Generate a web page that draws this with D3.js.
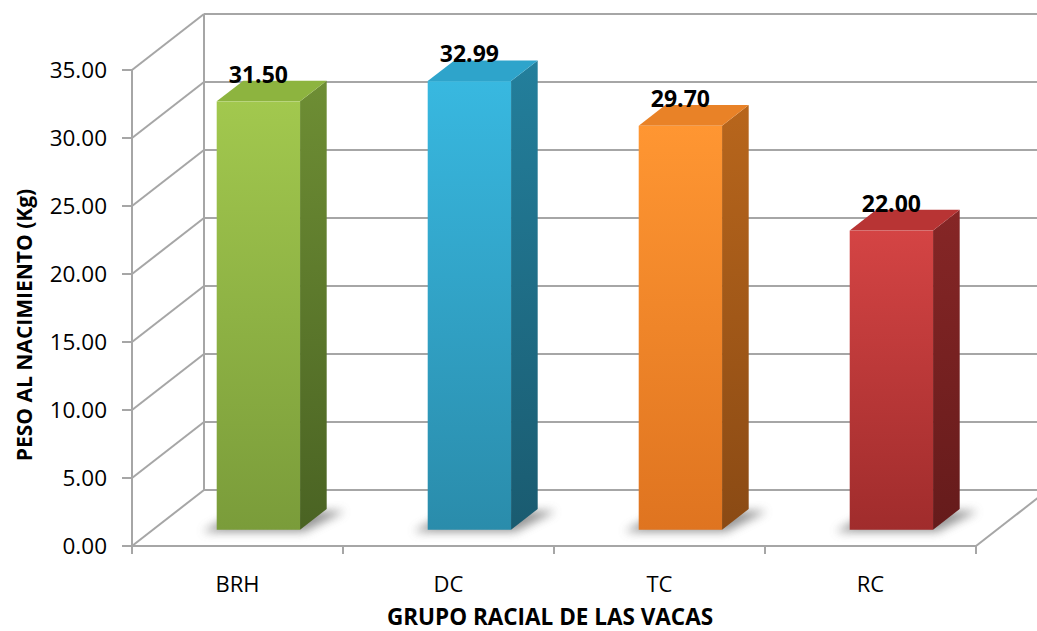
<!DOCTYPE html>
<html><head><meta charset="utf-8">
<script src="https://cdn.jsdelivr.net/npm/d3@7"></script>
<style>html,body{margin:0;padding:0;background:#fff;}svg{display:block;}</style>
</head><body>
<svg id="c" width="1037" height="631"></svg>
<script>
const categories = ["BRH", "DC", "TC", "RC"];
const values = [31.50, 32.99, 29.70, 22.00];
const yTicks = [0, 5, 10, 15, 20, 25, 30, 35];
const frontColors = [["#a2c84e", "#7a9c3a"], ["#38b8e0", "#2a8cab"], ["#ff9632", "#df7420"], ["#d44444", "#a02c2c"]];
const sideColors = [["#6e8e34", "#4a6323"], ["#237f9c", "#1a5b70"], ["#b8661c", "#8a4a14"], ["#862626", "#651b1b"]];
const topColors = ["#8db43f", "#2ea4cb", "#e98227", "#b83434"];

const svg = d3.select("#c");
const font = "'Open Sans', 'Noto Sans', sans-serif";
const x0 = 132, x1 = 976;
const y = d3.scaleLinear().domain([0, 35]).range([546, 70]);
const x = d3.scaleBand().domain(categories).range([x0, x1]);
const DX = 72, DY = -56;
const f1 = 0.29, f2 = 0.66;
const grid = "#a6a6a6";

const defs = svg.append("defs");
const blur = defs.append("filter").attr("id", "blur").attr("x", "-50%").attr("y", "-50%").attr("width", "200%").attr("height", "200%");
blur.append("feGaussianBlur").attr("stdDeviation", 5);
categories.forEach((c, i) => {
  const g1 = defs.append("linearGradient").attr("id", "fg" + i).attr("x1", 0).attr("y1", 0).attr("x2", 0).attr("y2", 1);
  g1.append("stop").attr("offset", 0).attr("stop-color", frontColors[i][0]);
  g1.append("stop").attr("offset", 1).attr("stop-color", frontColors[i][1]);
  const g2 = defs.append("linearGradient").attr("id", "sg" + i).attr("x1", 0).attr("y1", 0).attr("x2", 0).attr("y2", 1);
  g2.append("stop").attr("offset", 0).attr("stop-color", sideColors[i][0]);
  g2.append("stop").attr("offset", 1).attr("stop-color", sideColors[i][1]);
});

// Back wall horizontal gridlines
svg.append("g").selectAll("line").data(yTicks).join("line")
  .attr("x1", x0 + DX).attr("x2", x1 + DX)
  .attr("y1", d => y(d) + DY).attr("y2", d => y(d) + DY)
  .attr("stroke", grid).attr("stroke-width", 2);
// Side wall diagonals
svg.append("g").selectAll("line").data(yTicks).join("line")
  .attr("x1", x0).attr("y1", d => y(d))
  .attr("x2", x0 + DX).attr("y2", d => y(d) + DY)
  .attr("stroke", grid).attr("stroke-width", 2);
// Back wall left vertical edge
svg.append("line").attr("x1", x0 + DX).attr("x2", x0 + DX).attr("y1", y(0) + DY).attr("y2", y(35) + DY)
  .attr("stroke", grid).attr("stroke-width", 2);
// Floor right edge and front edge
svg.append("line").attr("x1", x1).attr("y1", y(0)).attr("x2", x1 + DX).attr("y2", y(0) + DY).attr("stroke", grid).attr("stroke-width", 2);
svg.append("line").attr("x1", x0).attr("y1", y(0)).attr("x2", x1).attr("y2", y(0)).attr("stroke", grid).attr("stroke-width", 2);

// Bars
const bw = x.bandwidth() * 0.395;
const bars = svg.append("g");
categories.forEach((c, i) => {
  const cx = x(c) + x.bandwidth() / 2 + DX * f1;
  const xl = cx - bw / 2, xr = cx + bw / 2;
  const yb = y(0) + DY * f1, yt = y(values[i]) + DY * f1;
  const ddx = DX * (f2 - f1), ddy = DY * (f2 - f1);
  // shadow
  bars.append("polygon")
    .attr("points", [[xl - 14, yb + 2], [xr + 4, yb + 2], [xr + ddx + 18, yb + ddy + 2], [xl + ddx - 4, yb + ddy + 2]].map(p => p.join(",")).join(" "))
    .attr("fill", "#6a6a6a").attr("opacity", 0.7).attr("filter", "url(#blur)");
  // side
  bars.append("polygon")
    .attr("points", [[xr, yb], [xr + ddx, yb + ddy], [xr + ddx, yt + ddy], [xr, yt]].map(p => p.join(",")).join(" "))
    .attr("fill", `url(#sg${i})`);
  // top
  bars.append("polygon")
    .attr("points", [[xl, yt], [xr, yt], [xr + ddx, yt + ddy], [xl + ddx, yt + ddy]].map(p => p.join(",")).join(" "))
    .attr("fill", topColors[i]);
  // front
  bars.append("rect").attr("x", xl).attr("y", yt).attr("width", bw).attr("height", yb - yt)
    .attr("fill", `url(#fg${i})`);
  // label
  svg.append("text").attr("x", cx).attr("y", yt + ddy + 2)
    .attr("text-anchor", "middle").attr("font-family", font).attr("font-weight", "bold")
    .attr("font-size", 23).attr("fill", "#000").text(values[i].toFixed(2));
});

// Left axis
svg.append("line").attr("x1", x0).attr("x2", x0).attr("y1", y(0)).attr("y2", y(35)).attr("stroke", grid).attr("stroke-width", 2);
const ya = svg.append("g");
ya.selectAll("line").data(yTicks).join("line")
  .attr("x1", x0 - 10).attr("x2", x0).attr("y1", d => y(d)).attr("y2", d => y(d))
  .attr("stroke", grid).attr("stroke-width", 2);
ya.selectAll("text").data(yTicks).join("text")
  .attr("x", x0 - 25).attr("y", d => y(d) + 8)
  .attr("text-anchor", "end").attr("font-family", font).attr("font-size", 22.5).attr("fill", "#000")
  .text(d => d.toFixed(2));

// Bottom ticks
const bt = [x0].concat(categories.map(c => x(c) + x.bandwidth()));
svg.append("g").selectAll("line").data(bt).join("line")
  .attr("x1", d => d).attr("x2", d => d).attr("y1", y(0)).attr("y2", y(0) + 8)
  .attr("stroke", grid).attr("stroke-width", 2);
svg.append("g").selectAll("text").data(categories).join("text")
  .attr("x", d => x(d) + x.bandwidth() / 2).attr("y", 592)
  .attr("text-anchor", "middle").attr("font-family", font).attr("font-size", 22).attr("fill", "#000")
  .text(d => d);

// Titles
svg.append("text").attr("x", 550).attr("y", 625).attr("text-anchor", "middle")
  .attr("font-family", font).attr("font-weight", "bold").attr("font-size", 22.5).attr("fill", "#000")
  .text("GRUPO RACIAL DE LAS VACAS");
svg.append("text").attr("transform", "translate(32,325) rotate(-90)").attr("text-anchor", "middle")
  .attr("font-family", font).attr("font-weight", "bold").attr("font-size", 21).attr("fill", "#000")
  .text("PESO AL NACIMIENTO (Kg)");
</script>
</body></html>
